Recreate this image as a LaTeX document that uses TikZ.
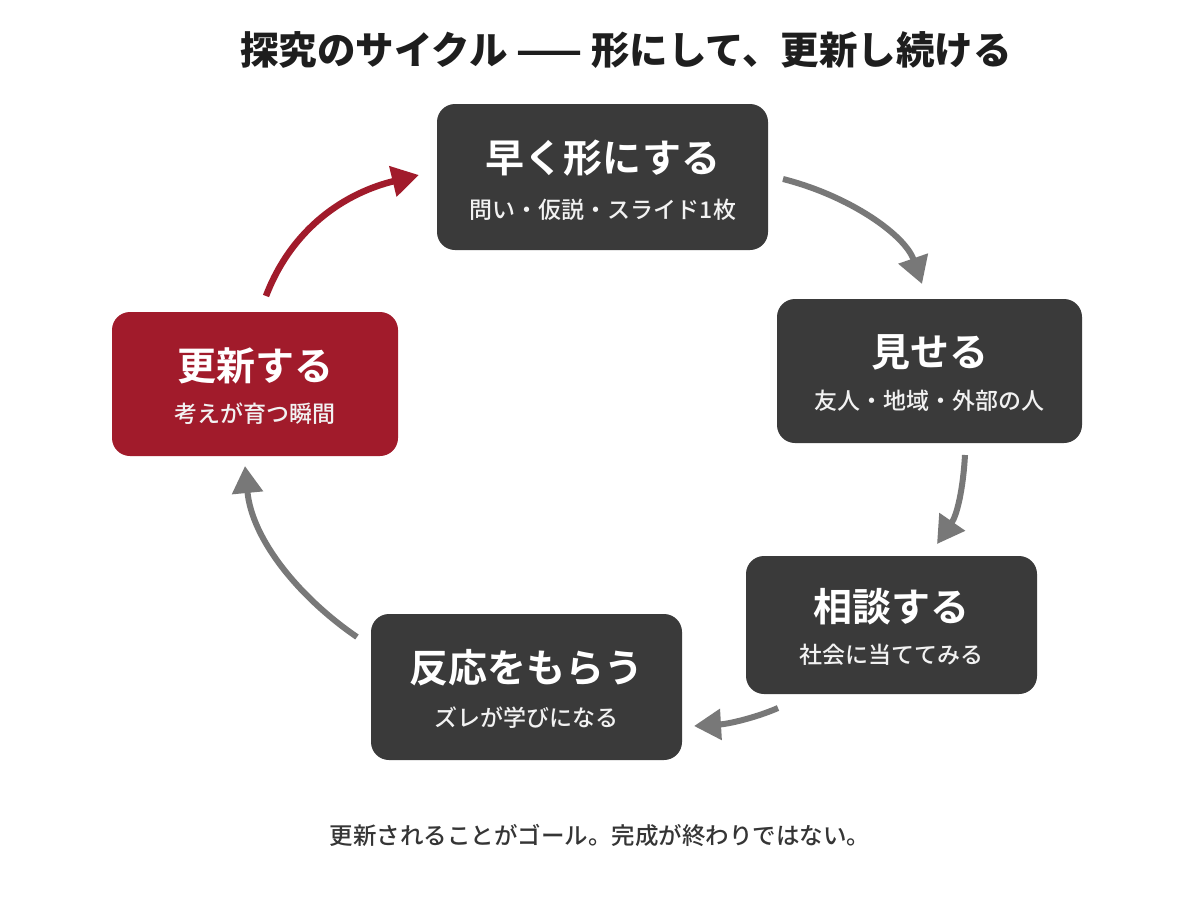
\documentclass[tikz,border=0pt]{standalone}
\usepackage{fontspec}
\setmainfont{Noto Sans CJK JP}[BoldFont={Noto Sans CJK JP Bold}]
\newfontfamily\jpmed{Noto Sans CJK JP Medium}
\newfontfamily\jpblack{Noto Sans CJK JP Black}
\usetikzlibrary{arrows.meta}
\definecolor{boxdark}{HTML}{3A3A3A}
\definecolor{boxred}{HTML}{A11B2B}
\definecolor{arrowgray}{HTML}{787878}
\definecolor{textdark}{HTML}{1E1E1E}
\definecolor{subwhite}{HTML}{F2F2F2}
\tikzset{
  stepbox/.style={fill=boxdark, rounded corners=18pt, inner sep=0pt},
  redbox/.style={fill=boxred, rounded corners=18pt, inner sep=0pt},
  boxtitle/.style={text=white, font=\fontsize{39}{42}\selectfont\bfseries, inner sep=0pt},
  boxsub/.style={text=subwhite, font=\fontsize{23}{26}\jpmed\selectfont, inner sep=0pt},
  cyclearrow/.style={draw=arrowgray, line width=6pt, -{Triangle[length=27pt,width=30pt]}},
  redarrow/.style={draw=boxred, line width=6.5pt, -{Triangle[length=27pt,width=30pt]}},
}
\begin{document}
\begin{tikzpicture}[x=1pt,y=-1pt]
\useasboundingbox (0,0) rectangle (1200,900);
\fill[white] (0,0) rectangle (1200,900);

% title
\node[text=textdark, font=\fontsize{38.5}{42}\jpblack\selectfont, inner sep=0pt] (title) at (626,50) {探究のサイクル —— 形にして、更新し続ける};

% boxes
\node[stepbox, minimum width=331pt, minimum height=146pt] (b1) at (602.5,177) {};
\node[boxtitle] (b1t) at (603,158) {早く形にする};
\node[boxsub] (b1s) at (603,210) {問い・仮説・スライド1枚};

\node[stepbox, minimum width=305pt, minimum height=144pt] (b2) at (929.5,371) {};
\node[boxtitle] (b2t) at (929.5,352) {見せる};
\node[boxsub] (b2s) at (929.5,401) {友人・地域・外部の人};

\node[stepbox, minimum width=291pt, minimum height=138pt] (b3) at (891.5,625) {};
\node[boxtitle] (b3t) at (891.5,607) {相談する};
\node[boxsub] (b3s) at (891.5,655) {社会に当ててみる};

\node[stepbox, minimum width=311pt, minimum height=146pt] (b4) at (526.5,687) {};
\node[boxtitle] (b4t) at (526.5,668) {反応をもらう};
\node[boxsub] (b4s) at (526.5,718) {ズレが学びになる};

\node[redbox, minimum width=286pt, minimum height=144pt] (b5) at (255,384) {};
\node[boxtitle] (b5t) at (255,366) {更新する};
\node[boxsub] (b5s) at (255,414) {考えが育つ瞬間};

% arrow end points
\coordinate (a1s) at (783,179);
\coordinate (a1e) at (922,284);
\coordinate (a2s) at (965,455);
\coordinate (a2e) at (937,544);
\coordinate (a3s) at (778,708);
\coordinate (a3e) at (694,726);
\coordinate (a4s) at (357,637);
\coordinate (a4e) at (245,466);
\coordinate (a5s) at (266,296);
\coordinate (a5e) at (419,175);

\draw[cyclearrow] (a1s) .. controls (850,196) and (905,235) .. (a1e);
\draw[cyclearrow] (a2s) .. controls (963,490) and (957,515) .. (a2e);
\draw[cyclearrow] (a3s) .. controls (755,718) and (728,724) .. (a3e);
\draw[cyclearrow] (a4s) .. controls (300,598) and (252,540) .. (a4e);
\draw[redarrow] (a5s) .. controls (292,228) and (345,193) .. (a5e);

% bottom note
\node[text=textdark!90, font=\fontsize{23.5}{26}\jpmed\selectfont, inner sep=0pt] (note) at (600,835) {更新されることがゴール。完成が終わりではない。};
\end{tikzpicture}
\end{document}
